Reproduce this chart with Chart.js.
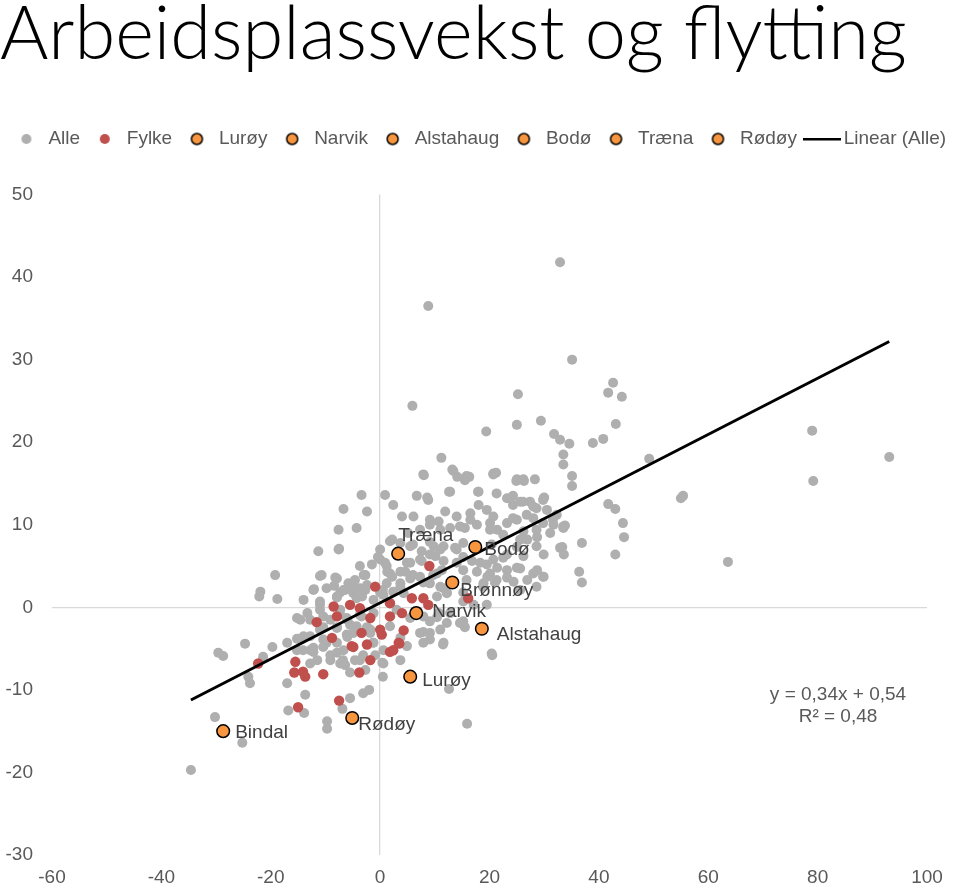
<!DOCTYPE html>
<html>
<head>
<meta charset="utf-8">
<title>Arbeidsplassvekst og flytting</title>
<script src="https://cdn.jsdelivr.net/npm/chart.js@4.4.0/dist/chart.umd.min.js"></script>
<style>
  html, body { margin: 0; padding: 0; background: #fff; }
  #wrap { width: 960px; height: 886px; }
</style>
</head>
<body>
<div id="wrap"><canvas id="chart"></canvas></div>
<script>
// Alle kommuner: [arbeidsplassvekst, flytting]
const alle = [
  [7.9,16.1],[13.4,16.5],[15.8,15.9],[20.7,16.1],[25.0,15.5],[26.2,15.5],[28.3,15.5],
  [-3.4,13.6],[0.9,13.6],[6.7,13.5],[8.8,13.0],[12.8,14.0],[18.0,14.0],[21.3,13.8],[23.2,13.2],[25.6,12.8],[27.4,12.8],[29.9,13.2],
  [-6.7,11.9],[-2.4,11.6],[2.4,12.4],[4.0,11.0],[6.1,11.0],[9.1,10.6],[11.9,11.6],[14.0,11.0],[16.5,11.4],[18.0,12.4],[19.5,11.8],[20.7,11.0],[23.2,10.2],[25.0,10.6],[26.8,11.2],[28.6,12.0],[30.5,11.8],[32.3,11.2],
  [-7.6,9.4],[-4.3,9.6],[10.7,10.4],[12.8,9.6],[15.5,9.6],[17.7,10.0],[20.1,9.4],[22.5,8.8],[26.2,9.2],[28.6,9.4],[31.7,10.0],[33.5,9.6],
  [-11.3,6.8],[-7.6,7.0],[0.0,7.0],[1.8,8.0],[5.5,7.4],[7.6,6.8],[9.8,7.4],[11.6,7.4],[14.0,7.0],[15.2,7.8],[20.4,7.6],[25.6,8.2],[28.6,7.4],[32.9,7.2],
  [-3.7,5.0],[0.0,5.8],[1.2,5.0],[4.9,5.4],[7.6,5.6],[10.1,6.2],[11.6,5.6],[14.0,5.4],[16.8,5.6],[19.5,5.2],[22.5,6.0],[26.2,6.2],[29.9,6.4],
  [-10.7,3.9],[-7.9,3.5],[-5.8,2.9],[-3.0,3.9],[1.8,4.1],[3.7,4.3],[5.5,3.5],[7.3,3.7],[10.4,4.1],[15.2,4.5],[17.7,4.3],[20.1,4.1],[23.2,4.5],[25.6,4.7],[28.0,4.1],[29.9,3.7],
  [-12.2,2.1],[-9.8,2.3],[-6.7,2.1],[-4.9,1.7],[-3.7,2.3],[-2.4,2.7],[1.2,2.9],[3.7,2.9],[9.1,2.9],[11.6,2.3],[15.8,3.3],[18.9,2.9],[21.3,3.3],[24.4,3.1],[28.6,2.5],
  [-14.0,0.9],[-11.0,0.7],[-7.9,1.3],[-4.3,1.1],[-1.2,0.9],[0.6,1.5],[2.4,1.9],[4.3,1.7],[10.4,1.3],[12.2,1.7],[15.2,0.7],[17.1,0.3],[19.5,0.3],
  [-15.2,-1.3],[-12.8,-1.5],[-10.4,-1.1],[-7.3,-0.3],[-6.1,-1.3],[-3.4,-1.1],[-1.2,-0.7],[1.8,0.5],[3.0,-0.3],[5.5,-1.3],[7.9,-1.1],[9.1,-1.7],[10.7,-0.7],[12.8,-0.7],[15.2,-1.7],
  [-14.0,-3.5],[-11.0,-2.7],[-7.9,-2.5],[-6.1,-3.3],[-4.3,-2.3],[-1.8,-3.1],[1.8,-2.3],[3.7,-3.7],[7.3,-3.1],[9.1,-3.1],[11.0,-2.7],
  [-15.2,-5.2],[-12.2,-4.9],[-9.8,-4.3],[-6.7,-5.2],[-1.2,-4.3],[0.6,-5.2],[4.9,-4.7],[7.9,-4.3],[11.6,-4.3],[20.4,-5.6],
  [-12.8,-6.8],[-9.1,-6.4],[-7.3,-6.8],[-3.7,-6.4],[0.6,-6.8],[3.7,-6.4],
  [-29.6,-5.5],[-28.7,-5.9],[-24.7,-4.4],[-19.7,-4.8],[-21.4,-6.0],[-24.1,-8.4],[-23.8,-9.2],[-17.0,-9.2],[-13.7,-10.6],[-16.8,-12.5],
  [-13.9,-12.8],[-9.7,-13.8],[-9.7,-14.7],[-6.9,-12.3],[-5.5,-11.0],[-3.1,-10.4],[-2.0,-10.0],[0.4,-6.7],[0.5,-8.4],
  [-30.2,-13.3],[-25.2,-16.4],[-34.6,-19.7],
  [-12.2,-5.4],[-10.4,-4.8],[-7.9,-5.5],[-6.8,-6.4],[-11.5,-6.4],[-14.1,-5.2],[-5.5,-7.9],[-3.1,-5.8],[-1.3,-4.3],
  [11.5,-4.5],[20.5,-5.8],[12.6,-9.9],[15.9,-14.1],
  [-7.5,7.1],[-0.4,6.1],[1.3,4.3],[-19.2,3.9],[-11.0,3.8],[-8.2,3.6],[-8.4,2.6],[-12.1,2.2],[-21.9,1.9],[-22.1,1.3],[-18.8,1.0],
  [-7.3,1.8],[-4.9,2.5],[-2.7,2.1],[-3.3,1.3],[0.0,1.8],[-7.9,1.2],[-11.0,0.3],[-14.6,-1.5],[-13.3,-0.7],[-10.4,-2.4],[-7.9,-2.4],
  [-6.0,-1.5],[-4.9,-3.1],[-2.4,-2.4],[-10.4,-3.9],[-7.9,-4.3],[-6.0,-3.6],[-17.0,-4.3],[-15.2,-3.8],[-12.8,-3.5],
  [32.9,41.8],[8.8,36.5],[35.1,30.0],[25.2,25.8],[42.6,27.2],[41.7,26.0],[44.2,25.5],[5.9,24.4],[25.0,22.1],[29.4,22.6],[19.4,21.3],
  [31.8,21.0],[32.9,20.3],[34.6,19.8],[38.9,19.9],[40.8,20.4],[43.1,22.2],[33.5,18.5],[33.5,17.3],[35.1,15.9],[35.1,14.7],[49.2,18.0],
  [11.2,18.1],[13.2,16.7],[14.1,15.8],[15.5,15.4],[16.3,15.8],[8.0,16.0],[12.6,14.0],[17.9,14.0],[20.7,16.2],[21.2,16.3],[24.9,15.3],
  [26.3,15.3],[8.6,13.3],[24.3,13.5],[30.0,13.3],
  [79.0,21.4],[93.1,18.2],[79.2,15.3],[55.4,13.5],[55.0,13.2],[41.7,12.5],[43.0,11.9],[44.4,10.2],[44.6,8.5],[33.8,9.9],[36.9,7.8],
  [33.3,7.3],[33.6,6.4],[43.0,6.4],[36.4,4.3],[36.9,3.0],[63.6,5.5],
  [25.6,2.1],[15.5,-2.4],[12.2,-1.9],[14.6,-1.9],[7.9,-3.0],[9.1,-3.9],
  [24.3,12.4],[26.1,12.8],[28.0,12.2],[29.8,13.0],[31.6,10.6],[33.5,9.8],[29.8,10.2],[28.0,10.8],[24.3,10.8],[21.4,9.4],
  [20.1,10.2],[16.5,10.6],[14.6,9.8],[11.0,9.4],[9.1,10.0],[7.3,9.4],[5.1,9.0],[2.2,8.2],[3.7,7.8],[6.0,7.6],
  [9.1,7.9],[11.0,7.0],[13.7,7.2],[15.2,6.1],[9.1,6.4],[7.3,5.8],[5.5,5.4],[0.9,5.4],[2.2,3.7],[4.6,4.3],
  [6.0,3.9],[9.7,3.9],[11.3,4.5],[18.3,5.4],[20.7,5.8],[23.2,6.4],[25.0,7.3],[26.9,8.2],[28.7,8.5],[31.1,9.0],
  [28.7,4.5],[29.8,3.7],[26.9,3.3],[25.0,4.8],[23.2,3.6],[21.4,4.8],[19.6,3.7],[21.0,3.0],[18.8,2.5],[15.2,1.8],
  [12.2,1.8],[11.0,2.5],[7.9,3.0],[3.7,2.5],[0.5,2.1],[10.4,-1.2],
  [-14.6,-3.9],[-12.8,-5.2],[-9.1,-5.8],[-6.4,-7.0],[-4.6,-6.4],[-2.7,-7.6],[-0.9,-5.8],[-11.0,-0.3],[-9.1,-1.5],
  [-7.3,-0.9],[-5.5,-2.1],[-3.7,-0.9],[-1.8,-2.7],[-6.4,2.1],[-4.6,3.3],[-2.7,3.9],[-1.5,5.2]
];

// Kommuner i fylket
const fylke = [
  [9.0,5.0],[-0.9,2.5],[-8.5,0.1],[-5.5,0.3],[-3.7,-0.1],[-7.9,-1.1],[-11.6,-1.8],[-1.8,-1.3],[1.8,-1.1],[1.8,0.5],
  [4.0,-0.7],[5.8,1.1],[7.9,1.1],[8.8,0.3],[16.1,1.1],[0.0,-2.7],[0.3,-3.3],[4.3,-2.8],[-3.4,-3.1],[-8.8,-3.7],
  [-5.2,-4.7],[-2.4,-4.5],[3.4,-4.3],[1.8,-5.4],[-1.8,-6.4],[-15.5,-6.6],[-22.3,-6.8],[-15.7,-7.9],[-14.1,-7.8],[-13.7,-8.4],
  [-10.4,-8.1],[-15.0,-12.1],[-7.5,-11.3],[-3.8,-7.9],[-4.9,-4.8],[2.4,-5.2],[3.5,-4.4]
];

// Utvalgte kommuner (egne serier)
const utvalgte = ['Lurøy', 'Narvik', 'Alstahaug', 'Bodø', 'Træna', 'Rødøy'];
const utvalgtX = [5.5, 6.6, 18.6, 17.4, 3.3, -5.1];
const utvalgtY = [-8.4, -0.7, -2.6, 7.3, 6.5, -13.4];

// Andre navngitte punkter uten egen legend
const andreNavn = ['Bindal', 'Brønnøy'];
const andreX = [-28.7, 13.2];
const andreY = [-15.0, 3.0];

// Trendlinje (Excel: y = 0,34x + 0,54, R² = 0,48)
const stigning = 0.34;
const konstant = 0.54;
const ligningTekst = ['y = 0,34x + 0,54', 'R² = 0,48'];

const xTicks = [-60, -40, -20, 0, 20, 40, 60, 80, 100];
const yTicks = [-30, -20, -10, 0, 10, 20, 30, 40, 50];

// label offsets (px) relative to the point
const labelOffsets = {
  'Træna': [0, -18], 'Bodø': [9, 3], 'Brønnøy': [8, 8], 'Narvik': [16, -1],
  'Alstahaug': [15, 6], 'Lurøy': [12, 4], 'Rødøy': [6, 7], 'Bindal': [12, 2]
};

const GREY = '#AFAFAF';
const RED = '#C0504D';
const ORANGE = '#F7963F';
const TXT = '#595959';
const FONT = '"Liberation Sans", Arial, sans-serif';

function dotIcon(fill, stroke, r) {
  const c = document.createElement('canvas');
  const s = Math.ceil(r * 2 + 4);
  c.width = s; c.height = s;
  const g = c.getContext('2d');
  g.beginPath();
  g.arc(s / 2, s / 2, r, 0, Math.PI * 2);
  g.fillStyle = fill;
  g.fill();
  if (stroke) { g.lineWidth = 1.5; g.strokeStyle = stroke; g.stroke(); }
  return c;
}

function lineIcon(w) {
  const c = document.createElement('canvas');
  c.width = w; c.height = 4;
  const g = c.getContext('2d');
  g.fillStyle = '#000';
  g.fillRect(0, 1, w, 2.5);
  return c;
}

const allXs = alle.map(p => p[0]);
const trendX = [Math.min(...allXs), Math.max(...allXs)];

const datasets = [
  { label: 'Alle', data: alle.map(p => ({ x: p[0], y: p[1] })), backgroundColor: GREY, borderWidth: 0,
    pointRadius: 5, order: 20, icon: dotIcon(GREY, null, 5) },
  { label: 'Fylke', data: fylke.map(p => ({ x: p[0], y: p[1] })), backgroundColor: RED, borderWidth: 0,
    pointRadius: 5.2, order: 15, icon: dotIcon(RED, null, 5) }
];
utvalgte.forEach((navn, i) => {
  datasets.push({
    label: navn, data: [{ x: utvalgtX[i], y: utvalgtY[i] }], pointNames: [navn],
    backgroundColor: ORANGE, borderColor: '#000', borderWidth: 1.5, pointRadius: 6.3, order: 2,
    icon: dotIcon(ORANGE, '#000', 5.5)
  });
});
datasets.push({
  label: 'Linear (Alle)', data: trendX.map(x => ({ x: x, y: stigning * x + konstant })),
  showLine: true, borderColor: '#000', borderWidth: 3, pointRadius: 0, pointHoverRadius: 0, order: 10,
  icon: lineIcon(38)
});
datasets.push({
  label: 'andre', data: andreX.map((x, i) => ({ x: x, y: andreY[i] })), pointNames: andreNavn,
  backgroundColor: ORANGE, borderColor: '#000', borderWidth: 1.5, pointRadius: 6.3, order: 3, hideLegend: true
});

// give the legend more room below it
const legendMargin = {
  id: 'legendMargin',
  beforeInit(chart) {
    const fit = chart.legend.fit;
    chart.legend.fit = function () {
      fit.bind(chart.legend)();
      this.height += 36;
    };
  }
};

const pointNamesPlugin = {
  id: 'pointNames',
  afterDatasetsDraw(chart) {
    const ctx = chart.ctx;
    ctx.save();
    ctx.font = '19px ' + FONT;
    ctx.fillStyle = '#404040';
    ctx.textBaseline = 'middle';
    ctx.textAlign = 'left';
    chart.data.datasets.forEach((ds, i) => {
      if (!ds.pointNames) return;
      chart.getDatasetMeta(i).data.forEach((pt, j) => {
        const name = ds.pointNames[j];
        const off = labelOffsets[name] || [10, 0];
        ctx.fillText(name, pt.x + off[0], pt.y + off[1]);
      });
    });
    ctx.restore();
  }
};

const equationPlugin = {
  id: 'equation',
  afterDraw(chart) {
    const ctx = chart.ctx;
    const a = chart.chartArea;
    ctx.save();
    ctx.font = '19px ' + FONT;
    ctx.fillStyle = TXT;
    ctx.textAlign = 'center';
    ctx.textBaseline = 'middle';
    ctx.fillText(ligningTekst[0], a.right - 89, a.top + 500);
    ctx.fillText(ligningTekst[1], a.right - 89, a.top + 522);
    ctx.restore();
  }
};

new Chart(document.getElementById('chart'), {
  type: 'scatter',
  data: { datasets: datasets },
  plugins: [legendMargin, pointNamesPlugin, equationPlugin],
  options: {
    responsive: true,
    maintainAspectRatio: false,
    animation: false,
    layout: { padding: 0 },
    plugins: {
      tooltip: { enabled: false },
      title: {
        display: true, text: 'Arbeidsplassvekst og flytting', align: 'start', color: '#000',
        font: { family: 'Lato, "Open Sans", sans-serif', size: 74, weight: '300', lineHeight: 0.9 },
        padding: { top: 2, bottom: 48.7 }
      },
      legend: {
        position: 'top',
        labels: {
          usePointStyle: true, pointStyleWidth: 25, padding: 12.2, color: TXT,
          font: { family: FONT, size: 19 },
          sort: (a, b) => a.datasetIndex - b.datasetIndex,
          filter: (item, data) => !data.datasets[item.datasetIndex].hideLegend,
          generateLabels(chart) {
            const items = Chart.defaults.plugins.legend.labels.generateLabels(chart);
            items.forEach(it => { it.pointStyle = chart.data.datasets[it.datasetIndex].icon; });
            return items;
          }
        }
      }
    },
    scales: {
      x: {
        type: 'linear', min: -60, max: 100,
        afterFit(scale) { scale.height = 31; scale.paddingRight = 33; },
        afterBuildTicks(scale) { scale.ticks = xTicks.map(v => ({ value: v })); },
        ticks: { color: TXT, font: { family: FONT, size: 19 }, padding: 11 },
        grid: { drawTicks: false, lineWidth: 1.3, color: c => c.tick && c.tick.value === 0 ? '#D9D9D9' : 'rgba(0,0,0,0)' },
        border: { display: false }
      },
      y: {
        type: 'linear', min: -30, max: 50,
        afterFit(scale) { scale.width = 52; },
        afterBuildTicks(scale) { scale.ticks = yTicks.map(v => ({ value: v })); },
        ticks: { color: TXT, font: { family: FONT, size: 19 }, padding: 19 },
        grid: { drawTicks: false, lineWidth: 1.3, color: c => c.tick && c.tick.value === 0 ? '#D9D9D9' : 'rgba(0,0,0,0)' },
        border: { display: false }
      }
    }
  }
});
</script>
</body>
</html>
